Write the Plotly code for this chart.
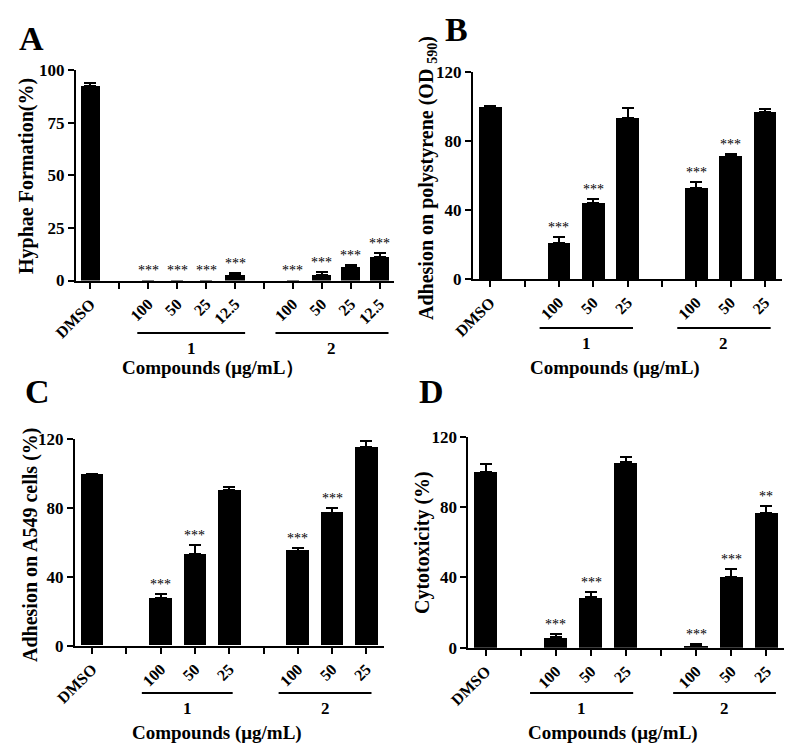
import plotly.graph_objects as go

W, H = 798, 751
FONT = "Liberation Serif"
PAGE_OFFSET = 8  # default page body margin of the html page

# ---------------- data ----------------
A_labels = ["DMSO", "", "100", "50", "25", "12.5", "", "100", "50", "25", "12.5"]
A_values = [92.3, None, 0, 0, 0, 2.8, None, 0, 2.8, 6.3, 11.4]
A_errtop = [94.0, None, 0, 0, 0, 3.4, None, 0, 3.9, 7.5, 13.0]
A_stars = ["", "", "***", "***", "***", "***", "", "***", "***", "***", "***"]

B_labels = ["DMSO", "", "100", "50", "25", "", "100", "50", "25"]
B_values = [100, None, 20.8, 43.9, 93.4, None, 52.8, 71.2, 96.9]
B_errtop = [100, None, 24.6, 46.4, 99.2, None, 56.1, 72.6, 98.4]
B_stars = ["", "", "***", "***", "", "", "***", "***", ""]

C_labels = ["DMSO", "", "100", "50", "25", "", "100", "50", "25"]
C_values = [99.8, None, 27.5, 53.3, 90.3, None, 55.3, 77.3, 115.3]
C_errtop = [99.8, None, 30.2, 58.5, 92.3, None, 56.8, 80.1, 119.0]
C_stars = ["", "", "***", "***", "", "", "***", "***", ""]

D_labels = ["DMSO", "", "100", "50", "25", "", "100", "50", "25"]
D_values = [99.9, None, 5.9, 28.6, 105.4, None, 1.0, 40.2, 76.8]
D_errtop = [104.3, None, 7.6, 31.7, 108.6, None, 2.1, 44.9, 80.4]
D_stars = ["", "", "***", "***", "", "", "***", "***", "**"]

A_yticks = [0, 25, 50, 75, 100]
BCD_yticks = [0, 40, 80, 120]

group_names = ["1", "2"]

# ---------------- layout helpers ----------------
def px(x):
    return (x - PAGE_OFFSET) / W

def py(y):
    return 1 - (y - PAGE_OFFSET) / H

panels = [
    dict(labels=A_labels, values=A_values, err=A_errtop, stars=A_stars, yticks=A_yticks, ymax=100,
         xdom=(76, 394), ydom=(280.5, 70),
         ytitle="<b>Hyphae Formation(%)</b>", ytpos=(27, 176),
         groups=[(1.62, 5.35), (6.40, 10.31)], gline_y=333, glab_y=348,
         xtitle="<b>Compounds (μg/mL）</b>", xtpos=(213, 368),
         letter="<b>A</b>", lpos=(31, 39)),
    dict(labels=B_labels, values=B_values, err=B_errtop, stars=B_stars, yticks=BCD_yticks, ymax=120,
         xdom=(473, 782), ydom=(279, 71.7),
         ytitle="<b>Adhesion on polystyrene (OD <sub>590</sub>)</b>", ytpos=(427, 178),
         groups=[(1.44, 4.16), (5.45, 8.17)], gline_y=328, glab_y=343,
         xtitle="<b>Compounds (μg/mL)</b>", xtpos=(615, 368),
         letter="<b>B</b>", lpos=(456, 29)),
    dict(labels=C_labels, values=C_values, err=C_errtop, stars=C_stars, yticks=BCD_yticks, ymax=120,
         xdom=(75, 383.5), ydom=(645.7, 439.3),
         ytitle="<b>Adhesion on A549 cells (%)</b>", ytpos=(30, 545),
         groups=[(1.45, 4.10), (5.44, 8.15)], gline_y=693, glab_y=708,
         xtitle="<b>Compounds (μg/mL)</b>", xtpos=(217, 733),
         letter="<b>C</b>", lpos=(37, 391)),
    dict(labels=D_labels, values=D_values, err=D_errtop, stars=D_stars, yticks=BCD_yticks, ymax=120,
         xdom=(468.3, 784), ydom=(647.7, 436.7),
         ytitle="<b>Cytotoxicity (%)</b>", ytpos=(422, 543),
         groups=[(1.26, 4.20), (5.34, 8.27)], gline_y=693, glab_y=708,
         xtitle="<b>Compounds (μg/mL)</b>", xtpos=(613, 733),
         letter="<b>D</b>", lpos=(431, 391)),
]

fig = go.Figure()
annotations = []
shapes = []
layout_axes = {}

for k, p in enumerate(panels, start=1):
    xa = "x" if k == 1 else f"x{k}"
    ya = "y" if k == 1 else f"y{k}"
    xkey = "xaxis" if k == 1 else f"xaxis{k}"
    ykey = "yaxis" if k == 1 else f"yaxis{k}"
    n = len(p["labels"])
    xs, ys, eps = [], [], []
    for i, (v, e) in enumerate(zip(p["values"], p["err"])):
        if v is None:
            continue
        xs.append(i)
        ys.append(v)
        eps.append(max(e - v, 0))
    fig.add_trace(go.Bar(
        x=xs, y=ys, xaxis=xa, yaxis=ya, width=0.66,
        marker=dict(color="black", line=dict(width=0)),
        error_y=dict(type="data", symmetric=False, array=eps, arrayminus=[0] * len(eps),
                     color="black", thickness=2, width=6),
        showlegend=False, hoverinfo="skip",
    ))
    layout_axes[xkey] = dict(
        domain=[px(p["xdom"][0]), px(p["xdom"][1])], anchor=ya, automargin=False,
        range=[-0.5, n - 0.5], tickmode="array", tickvals=list(range(n)),
        ticktext=[f"<b>{t}</b>" if t else " " for t in p["labels"]],
        tickangle=-45, ticks="outside", ticklen=6, tickwidth=2, tickcolor="black",
        showline=True, linewidth=2, linecolor="black", showgrid=False, zeroline=False,
        tickfont=dict(family=FONT, size=16, color="black"), fixedrange=True,
    )
    layout_axes[ykey] = dict(
        domain=[py(p["ydom"][0]), py(p["ydom"][1])], anchor=xa, automargin=False,
        range=[0, p["ymax"]], tickmode="array", tickvals=p["yticks"],
        ticktext=[f"<b>{t}</b>" for t in p["yticks"]],
        ticks="outside", ticklen=6, tickwidth=2, tickcolor="black",
        showline=True, linewidth=2, linecolor="black", showgrid=False, zeroline=False,
        tickfont=dict(family=FONT, size=17, color="black"), fixedrange=True,
    )
    # significance stars
    for i, s in enumerate(p["stars"]):
        if not s:
            continue
        annotations.append(dict(
            x=i, y=p["err"][i], xref=xa, yref=ya, text=s, showarrow=False,
            xanchor="center", yanchor="bottom", yshift=0,
            font=dict(family=FONT, size=14, color="#000000"),
        ))
    # group lines and labels
    for (g0, g1), gname in zip(p["groups"], group_names):
        shapes.append(dict(type="line", xref=xa, yref="paper", x0=g0, x1=g1,
                           y0=py(p["gline_y"]), y1=py(p["gline_y"]),
                           line=dict(color="black", width=2)))
        annotations.append(dict(
            x=(g0 + g1) / 2, y=py(p["glab_y"]), xref=xa, yref="paper",
            text=f"<b>{gname}</b>", showarrow=False, xanchor="center", yanchor="middle",
            font=dict(family=FONT, size=17, color="black"),
        ))
    # axis titles
    annotations.append(dict(
        x=px(p["ytpos"][0]), y=py(p["ytpos"][1]), xref="paper", yref="paper",
        text=p["ytitle"], textangle=-90, showarrow=False,
        xanchor="center", yanchor="middle",
        font=dict(family=FONT, size=20, color="black"),
    ))
    annotations.append(dict(
        x=px(p["xtpos"][0]), y=py(p["xtpos"][1]), xref="paper", yref="paper",
        text=p["xtitle"], showarrow=False, xanchor="center", yanchor="middle",
        font=dict(family=FONT, size=19, color="black"),
    ))
    annotations.append(dict(
        x=px(p["lpos"][0]), y=py(p["lpos"][1]), xref="paper", yref="paper",
        text=p["letter"], showarrow=False, xanchor="center", yanchor="middle",
        font=dict(family=FONT, size=34, color="black"),
    ))

fig.update_layout(
    width=W, height=H, margin=dict(l=0, r=0, t=0, b=0, pad=0, autoexpand=False),
    paper_bgcolor="white", plot_bgcolor="white",
    font=dict(family=FONT, color="black"),
    bargap=0, annotations=annotations, shapes=shapes, showlegend=False,
    **layout_axes,
)

fig.write_html("out.html")
